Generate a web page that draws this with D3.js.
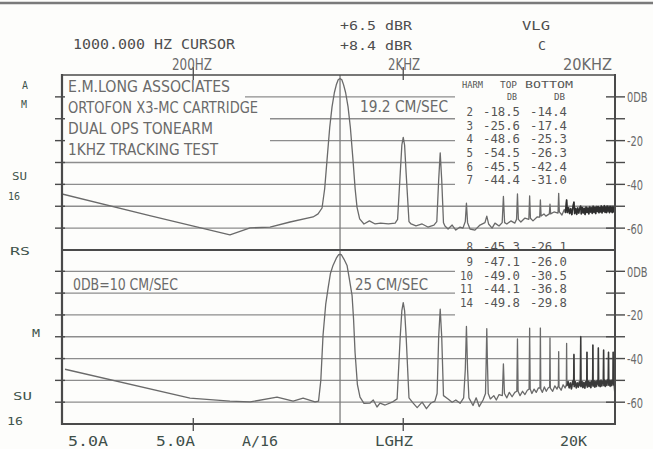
<!DOCTYPE html>
<html><head><meta charset="utf-8">
<script src="https://cdn.jsdelivr.net/npm/d3@7"></script>
<style>body{margin:0;background:#fdfdfb;} svg{display:block}</style>
</head><body>
<svg id="c" width="653" height="449"></svg>
<script>
// ---------- DATA ----------
const harmonics   = [2, 3, 4, 5, 6, 7, 8, 9, 10, 11, 14];
const harmTopDb   = [-18.5, -25.6, -48.6, -54.5, -45.5, -44.4, -45.3, -47.1, -49.0, -44.1, -49.8];
const harmBotDb   = [-14.4, -17.4, -25.3, -26.3, -42.4, -31.0, -26.1, -26.0, -30.5, -36.8, -29.8];
const freqTicks   = [200, 2000, 20000];
const freqTickLabels = ["200HZ", "2KHZ", "20KHZ"];
const bottomAxisLabels = ["5.0A", "5.0A", "A/16", "LGHZ", "20K"];
const dbGrid      = [0, -10, -20, -30, -40, -50, -60];
const dbLabelVals = [0, -20, -40, -60];
const dbLabelText = ["0DB", "-20", "-40", "-60"];
const cursorFreq  = 1000;
const headerLines = ["1000.000 HZ CURSOR", "+6.5 dBR", "+8.4 dBR", "VLG", "C"];
const topNotes    = ["E.M.LONG ASSOCIATES", "ORTOFON X3-MC CARTRIDGE", "DUAL OPS TONEARM", "1KHZ TRACKING TEST"];
const topSpeed    = "19.2 CM/SEC";
const botNotes    = ["0DB=10 CM/SEC", "25 CM/SEC"];
const leftTop     = ["A", "M", "SU", "16"];
const leftBot     = ["RS", "M", "SU", "16"];

// spectrum, top panel: [Hz, dB]
const traceTop = [
 [47.4,-44.4],[124,-54.3],[299,-63.1],[373,-59.9],[464,-59.5],[578,-57.2],[744,-54.9],[786,-53.5],[821,-50.8],
 [845,-42],[867,-28.9],[893,-14],[916,-4.6],[940,2],[960,5.5],[980,7.8],[1000,8.4],[1020,7.8],[1040,5.5],[1063,2],
 [1092,-4.6],[1120,-14],[1153,-28.9],[1180,-42],[1205,-50.5],[1240,-55.8],[1300,-58.1],[1380,-56.7],[1470,-58.1],
 [1560,-57.7],[1700,-58.1],[1830,-57.7],[1880,-56],[1935,-35],[1970,-22],[2000,-18.5],[2030,-22],[2065,-35],
 [2130,-57],[2180,-58.1],[2300,-59],[2460,-58.1],[2620,-59.5],[2800,-58.6],[2890,-57],[2950,-38],[3000,-25.6],
 [3050,-38],[3110,-57.5],[3160,-59],[3270,-60.4],[3420,-58.6],[3560,-60.9],[3730,-59.5],[3850,-60],[3950,-57],
 [4000,-48.6],[4050,-57.5],[4160,-60.4],[4390,-60.9],[4640,-58.6],[4900,-57.5],[5000,-54.5],[5100,-58.1],
 [5300,-60],[5470,-57.7],[5720,-59],[5920,-57.5],[6000,-45.5],[6080,-57.5],[6230,-58.1],[6510,-56.7],[6800,-57.7],
 [6930,-56],[7000,-44.4],[7070,-56],[7265,-57.2],[7600,-55.4],[7930,-56],[8000,-45.3],[8070,-55.5],[8300,-56.7],
 [8680,-54.9],[8930,-55],[9000,-47.1],[9070,-54.5],[9360,-53.5],[9560,-54.5],[9930,-53.5],[10000,-49.0],
 [10070,-53.5],[10450,-52.6],[10920,-53.1],[11000,-44.1],[11080,-52.6],[11400,-54],[11700,-51.5],[11850,-53],
 [12000,-47],[12100,-53],[12250,-50.5],[12400,-53.5],[12550,-51],[12700,-54],[12850,-50.5],[13000,-48],
 [13100,-53.5],[13250,-50.8],[13400,-53.8],[13550,-50.6],[13700,-53.2],[13850,-51],[14000,-49.8],[14100,-53.6],
 [14250,-50.4],[14400,-53.2],[14550,-50.8],[14700,-53.9],[14850,-50.2],[15000,-53],[15150,-50.6],[15300,-53.6],
 [15450,-50.1],[15600,-52.8],[15750,-50.5],[15900,-53.4],[16050,-49.8],[16200,-52.9],[16350,-50.3],[16500,-53.5],
 [16650,-50],[16800,-52.6],[16950,-49.9],[17100,-53.1],[17250,-50.4],[17400,-52.7],[17550,-49.7],[17700,-53.2],
 [17850,-50.2],[18000,-52.5],[18150,-49.6],[18300,-52.9],[18450,-50.1],[18600,-53],[18750,-49.8],[18900,-52.4],
 [19050,-50.3],[19200,-53.1],[19350,-49.9],[19500,-52.6],[19650,-50.2],[19800,-53],[19950,-50],[20100,-52.7],
 [20250,-50.4],[20400,-52.2]
];

// spectrum, bottom panel: [Hz, dB]
const traceBottom = [
 [49,-44.9],[193,-58.1],[299,-59.5],[373,-59.9],[501,-57.7],[598,-59.5],[667,-58.1],[760,-59.9],[790,-59.5],
 [810,-50],[830,-29.3],[855,-15],[877,-7.8],[900,-1],[926,2.7],[960,6],[985,7.6],[1000,7.8],[1015,7.6],[1045,5.5],
 [1080,2.7],[1110,-4],[1141,-11],[1160,-22],[1179,-37.1],[1210,-52],[1245,-57.7],[1300,-60.5],[1390,-60.4],
 [1440,-59],[1500,-62.2],[1550,-60.4],[1640,-61.3],[1770,-60],[1870,-58.5],[1935,-30],[1970,-18],[2000,-14.4],
 [2030,-18],[2065,-30],[2130,-58],[2230,-60.4],[2330,-62.5],[2460,-60],[2580,-63],[2700,-60.5],[2830,-59.5],
 [2900,-56],[2950,-30],[3000,-17.4],[3050,-30],[3110,-57],[3270,-58.5],[3420,-60],[3560,-59],[3730,-60.5],
 [3880,-58],[3950,-45],[4000,-25.3],[4050,-45],[4110,-58],[4300,-61.5],[4450,-58],[4600,-62],[4800,-59],
 [4930,-56],[4970,-40],[5000,-26.3],[5030,-40],[5080,-56],[5200,-58.5],[5400,-57],[5550,-59],[5720,-56.5],
 [5930,-57],[6000,-42.4],[6070,-56],[6230,-58],[6400,-55.5],[6600,-57.5],[6800,-55.5],[6950,-55],[7000,-31.0],
 [7050,-55],[7200,-57],[7400,-55],[7600,-56.5],[7800,-54.5],[7950,-54],[8000,-26.1],[8050,-54],[8200,-56],
 [8400,-54],[8600,-55.5],[8800,-53.5],[8960,-53.5],[9000,-26.0],[9040,-54],[9200,-55.5],[9400,-53],[9600,-55],
 [9800,-53.5],[9960,-53],[10000,-30.5],[10040,-53.5],[10300,-55],[10550,-52.5],[10800,-54],[10960,-52.5],
 [11000,-36.8],[11040,-53],[11300,-54.5],[11550,-52],[11800,-53.5],[11960,-52],[12000,-33],[12040,-52.5],
 [12200,-50.5],[12350,-53.5],[12500,-51],[12650,-54],[12800,-50.8],[12950,-52],[13000,-38],[13050,-53],
 [13200,-50.5],[13350,-53.6],[13500,-51],[13650,-53.2],[13800,-50.6],[13950,-52.5],[14000,-29.8],[14050,-53],
 [14200,-50.3],[14350,-53.4],[14500,-50.8],[14650,-53.7],[14800,-50.5],[14950,-52.3],[15000,-37],[15050,-53.2],
 [15200,-50.2],[15350,-53],[15500,-50.6],[15650,-53.5],[15800,-50.1],[15950,-52.2],[16000,-33.7],[16050,-52.8],
 [16200,-50],[16350,-53.2],[16500,-50.4],[16650,-52.9],[16800,-49.9],[16950,-51.8],[17000,-35],[17050,-52.6],
 [17200,-50.1],[17350,-53],[17500,-49.8],[17650,-52.7],[17800,-50.2],[17950,-51.5],[18000,-36],[18050,-52.5],
 [18200,-49.7],[18350,-52.9],[18500,-50.1],[18650,-52.4],[18800,-49.6],[18950,-51.2],[19000,-37],[19050,-52.3],
 [19200,-49.9],[19350,-52.8],[19500,-50],[19650,-52.5],[19800,-49.8],[19950,-51.5],[20000,-37],[20050,-52.2],
 [20200,-50.2],[20400,-58]
];

// ---------- DRAW ----------
const svg = d3.select("#c");
const L = 62, R = 615;
const x = d3.scaleLog().domain([47.4, 20400]).range([L, R]);
const yTop = d3.scaleLinear().domain([10, -70]).range([75, 250]);
const yBot = d3.scaleLinear().domain([10, -70]).range([249.5, 424]);

const gridCol = "#8d8d8d", frameCol = "#4a4a4a", traceCol = "#6a6a6a";

function T(str, px, py, o = {}) {
  const t = svg.append("text").attr("x", px).attr("y", py).text(str)
    .attr("font-family", o.fam || "DejaVu Sans")
    .attr("font-size", o.size || 12)
    .attr("fill", o.fill || "#6a6a6a");
  if (o.w) t.attr("textLength", o.w).attr("lengthAdjust", "spacingAndGlyphs");
  if (o.weight) t.attr("font-weight", o.weight);
  return t;
}
function hline(y, x1, x2, col, w) {
  svg.append("line").attr("x1", x1).attr("x2", x2).attr("y1", y).attr("y2", y)
    .attr("stroke", col).attr("stroke-width", w);
}

// scan edge at the top
svg.append("line").attr("x1", 0).attr("x2", 653).attr("y1", 3).attr("y2", 3).attr("stroke", "#7a7a7a").attr("stroke-width", 2.5);

// grid lines (partially hidden behind text overlays)
const topExt = {0: [245, 455], "-10": [270, 455], "-20": [270, 455], "-30": [L, 455], "-40": [L, 455], "-50": [L, R], "-60": [L, R]};
const botExt = {0: [L, 455], "-10": [L, 455], "-20": [L, 455], "-30": [L, R], "-40": [L, R], "-50": [L, R], "-60": [L, R]};
dbGrid.forEach(d => {
  hline(yTop(d), topExt[d][0], topExt[d][1], gridCol, 1.3);
  hline(yBot(d), botExt[d][0], botExt[d][1], gridCol, 1.3);
  hline(yTop(d), L - 7, L + 3, frameCol, 1.4);
  hline(yBot(d), L - 7, L + 3, frameCol, 1.4);
  hline(yTop(d), R - 9, R + 10, frameCol, 1.4);
  hline(yBot(d), R - 9, R + 10, frameCol, 1.4);
});

// cursor line
svg.append("line").attr("x1", x(cursorFreq)).attr("x2", x(cursorFreq)).attr("y1", 75).attr("y2", 424)
  .attr("stroke", "#7c7c7c").attr("stroke-width", 1.3);

// frequency ticks top & bottom
freqTicks.slice(0, 2).forEach(f => {
  svg.append("line").attr("x1", x(f)).attr("x2", x(f)).attr("y1", 67).attr("y2", 80).attr("stroke", frameCol).attr("stroke-width", 1.3);
  svg.append("line").attr("x1", x(f)).attr("x2", x(f)).attr("y1", 418).attr("y2", 431).attr("stroke", frameCol).attr("stroke-width", 1.3);
});

// traces
svg.append("clipPath").attr("id", "ct").append("rect").attr("x", L).attr("y", 75).attr("width", R - L).attr("height", 175);
svg.append("clipPath").attr("id", "cb").append("rect").attr("x", L).attr("y", 249).attr("width", R - L).attr("height", 175);
const lineT = d3.line().x(d => x(d[0])).y(d => yTop(d[1]));
const lineB = d3.line().x(d => x(d[0])).y(d => yBot(d[1]));
svg.append("path").attr("d", lineT(traceTop)).attr("fill", "none").attr("stroke", traceCol).attr("stroke-width", 1.3).attr("stroke-linejoin", "round").attr("clip-path", "url(#ct)");
svg.append("path").attr("d", lineB(traceBottom)).attr("fill", "none").attr("stroke", traceCol).attr("stroke-width", 1.3).attr("stroke-linejoin", "round").attr("clip-path", "url(#cb)");
// dense high-frequency noise band drawn darker
svg.append("path").attr("d", lineT(traceTop.filter(d => d[0] >= 11850))).attr("fill", "none").attr("stroke", "#2e2e2e").attr("stroke-width", 1.5).attr("clip-path", "url(#ct)");
svg.append("path").attr("d", lineB(traceBottom.filter(d => d[0] >= 12040))).attr("fill", "none").attr("stroke", "#3a3a3a").attr("stroke-width", 1.4).attr("clip-path", "url(#cb)");

// table
const tf = "DejaVu Sans Mono", tc = "#555";
T("HARM", 462, 88, {fam: tf, size: 8, w: 21, fill: tc});
T("TOP", 500, 88, {fam: tf, size: 8, w: 17, fill: tc});
T("BOTTOM", 525, 88, {fam: tf, size: 8, w: 48, fill: tc});
T("DB", 507, 100, {fam: tf, size: 8, w: 10, fill: tc});
T("DB", 554, 100, {fam: tf, size: 8, w: 11, fill: tc});
const rowY = [115.5, 129.5, 143, 157, 170.5, 184, 251, 266, 279.5, 293, 306.5];
harmonics.forEach((h, i) => {
  const s = String(h);
  T(s, 473 - s.length * 6.5, rowY[i], {fam: tf, size: 11.5, w: s.length * 6.5, fill: tc});
  const a = harmTopDb[i].toFixed(1), b = harmBotDb[i].toFixed(1);
  T(a, 520 - a.length * 7.4, rowY[i], {fam: tf, size: 11.5, w: a.length * 7.4, fill: tc});
  T(b, 567 - b.length * 7.4, rowY[i], {fam: tf, size: 11.5, w: b.length * 7.4, fill: tc});
});

// frame
hline(75, L, R, frameCol, 1.6);
hline(250, L, R, frameCol, 2.2);
hline(424, L - 1, R + 1, frameCol, 2.2);
svg.append("line").attr("x1", L).attr("x2", L).attr("y1", 74).attr("y2", 425).attr("stroke", frameCol).attr("stroke-width", 2.2);
svg.append("line").attr("x1", R).attr("x2", R).attr("y1", 74).attr("y2", 425).attr("stroke", frameCol).attr("stroke-width", 2);

// header texts
const hc = "#4e4e4e";
T(headerLines[0], 73, 49, {fam: tf, size: 14, w: 162, fill: hc});
T(headerLines[1], 340, 30, {fam: tf, size: 11.5, w: 72, fill: hc});
T(headerLines[2], 340, 50, {fam: tf, size: 11.5, w: 72, fill: hc});
T(headerLines[3], 522, 30, {fam: tf, size: 11.5, w: 28, fill: hc});
T(headerLines[4], 538, 50, {fam: tf, size: 11.5, w: 8, fill: hc});

// frequency labels
const fx = [172, 388, 563], fw = [40, 32, 49];
freqTickLabels.forEach((s, i) => T(s, fx[i], 70, {size: 15.5, w: fw[i], fill: "#6a6a6a"}));

// notes
const nc = "#6a6a6a";
const nY = [92, 113, 134, 155], nW = [162, 190, 145, 150];
topNotes.forEach((s, i) => T(s, 68, nY[i], {size: 16, w: nW[i], fill: nc}));
T(topSpeed, 360, 112, {size: 16, w: 88, fill: nc});
T(botNotes[0], 73, 290, {size: 16, w: 105, fill: nc});
T(botNotes[1], 355, 290, {size: 16, w: 73, fill: nc});

// right dB labels (condensed with a horizontal scale so the box stays inside)
[yTop, yBot].forEach(ys => {
  dbLabelVals.forEach((d, i) => {
    svg.append("text")
      .attr("transform", `translate(627,${ys(d) + 5.5}) scale(0.68,1)`)
      .attr("font-family", "DejaVu Sans").attr("font-size", 14.5)
      .attr("fill", nc).text(dbLabelText[i]);
  });
});

// left labels
const lc = "#3f544b";
const ltX = [22, 21, 12, 8], ltY = [89, 108, 180, 200], ltW = [6, 6, 15, 12];
leftTop.forEach((s, i) => T(s, ltX[i], ltY[i], {fam: tf, size: 11, w: ltW[i], fill: lc}));
const lbX = [10, 32, 13, 7], lbY = [255, 337, 400, 425], lbW = [20, 8, 19, 16];
leftBot.forEach((s, i) => T(s, lbX[i], lbY[i], {fam: tf, size: 11, w: lbW[i], fill: lc}));

// bottom labels
const bX = [68, 156, 242, 375, 560], bW = [40, 39, 36, 38, 27];
bottomAxisLabels.forEach((s, i) => T(s, bX[i], 446, {fam: tf, size: 13.5, w: bW[i], fill: "#3f4f4a"}));
</script>
</body></html>
